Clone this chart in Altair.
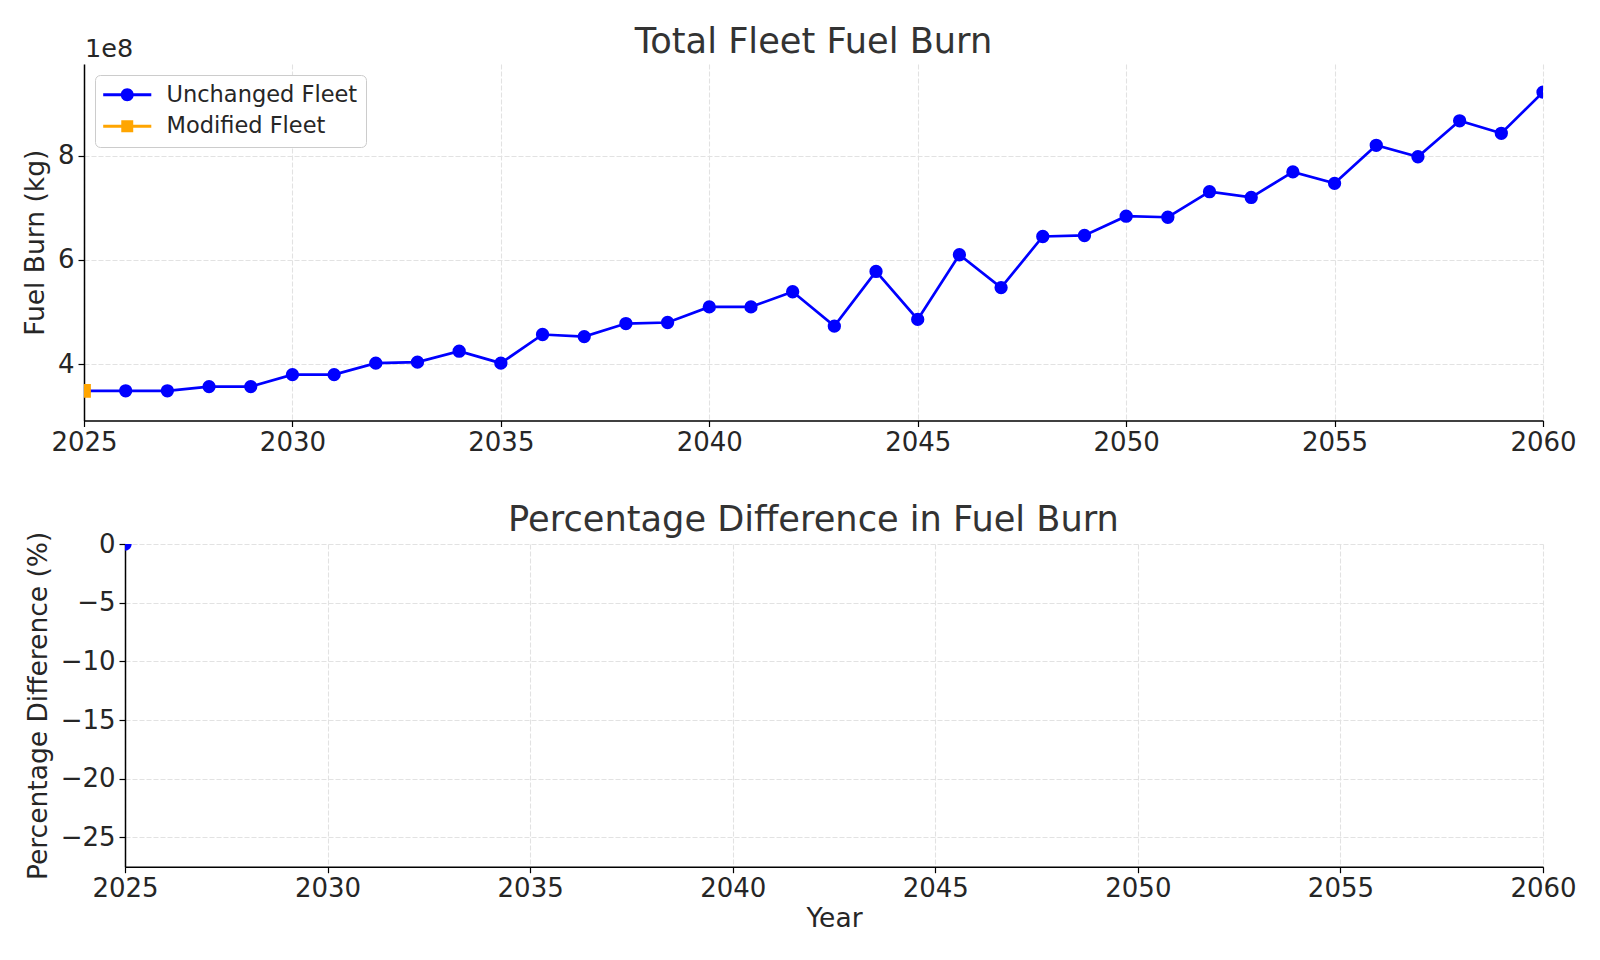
import altair as alt
import pandas as pd

# ---------------- data ----------------
years = list(range(2025, 2061))
unchanged_fuel_1e8 = [3.49, 3.49, 3.49, 3.57, 3.57, 3.80, 3.80, 4.02, 4.04, 4.25,
                      4.02, 4.57, 4.53, 4.78, 4.80, 5.10, 5.10, 5.39, 4.73, 5.78,
                      4.86, 6.10, 5.47, 6.45, 6.47, 6.84, 6.82, 7.31, 7.20, 7.69,
                      7.47, 8.20, 7.98, 8.67, 8.43, 9.22]
modified_years = [2025]
modified_fuel_1e8 = [3.49]
pct_years = [2025]
pct_diff = [0.0]

series_names = ["Unchanged Fleet", "Modified Fleet"]
series_colors = ["#0000ff", "#ffa500"]
x_ticks = [2025, 2030, 2035, 2040, 2045, 2050, 2055, 2060]
top_y_ticks = [4, 6, 8]
bottom_y_ticks = [0, -5, -10, -15, -20, -25]

FONT = "DejaVu Sans"
TXT = "#262626"
TICK_FS = 26
TITLE_FS = 26.5
HEAD_FS = 35.2
PLOT_W = 1459
BOTTOM_INSET = 41   # bottom panel starts further right (wider tick labels)
GRID = dict(grid=True, gridColor="#e2e2e2", gridDash=[5, 2], gridWidth=1.1)

unch = pd.DataFrame({"year": years, "fuel": unchanged_fuel_1e8, "series": series_names[0]})
mod = pd.DataFrame({"year": modified_years, "fuel": modified_fuel_1e8, "series": series_names[1]})
both = pd.concat([unch, mod], ignore_index=True)
pct = pd.DataFrame({"year": pct_years, "pct": pct_diff})


def x_enc(title=None, rng=None):
    kw = dict(values=x_ticks, format="d", labelFlush=False, labelOverlap=False,
              domainColor="#000000", domainWidth=1.5, tickColor="#000000",
              tickSize=6, tickWidth=1.2, labelFontSize=TICK_FS, labelFont=FONT,
              labelColor=TXT, labelPadding=3, **GRID)
    if title:
        kw.update(title=title, titleFontSize=TITLE_FS, titleFont=FONT, titleColor=TXT,
                  titleFontWeight="normal", titlePadding=3.6)
    else:
        kw.update(title=None)
    sc = dict(domain=[2025, 2060], nice=False, zero=False)
    if rng:
        sc["range"] = rng
    return alt.X("year:Q", scale=alt.Scale(**sc), axis=alt.Axis(**kw))


def y_enc(field, domain, ticks, title, offset=0):
    kw = dict(values=ticks, labelOverlap=False, labelFlush=False,
              domainColor="#000000", domainWidth=1.5, tickColor="#000000",
              tickSize=6, tickWidth=1.2, labelFontSize=TICK_FS, labelFont=FONT,
              labelColor=TXT, labelPadding=4, title=title, titleFontSize=TITLE_FS,
              titleFont=FONT, titleColor=TXT, titleFontWeight="normal", titlePadding=8,
              offset=offset, **GRID)
    return alt.Y(f"{field}:Q", scale=alt.Scale(domain=domain, nice=False, zero=False),
                 axis=alt.Axis(**kw))


circle_path = "M-3.7,-0.22H3.7V0.22H-3.7Z M1,0A1,1 0 1,1 -1,0A1,1 0 1,1 1,0Z"
square_path = "M-3.7,-0.22H3.7V0.22H-3.7Z M-0.92,-0.92H0.92V0.92H-0.92Z"
right_half_circle = "M0,-1A1,1 0 0,1 0,1Z"

leg = alt.Legend(title=None, orient="top-left", offset=11, padding=8.5,
                 fillColor="white", strokeColor="#cccccc", cornerRadius=5,
                 labelFontSize=22.5, labelFont=FONT, labelColor=TXT, labelLimit=400,
                 symbolSize=169, symbolStrokeWidth=0, symbolOffset=12.5,
                 labelOffset=28, rowPadding=8.5, symbolOpacity=1)

xt = x_enc()
yt = y_enc("fuel", [2.92, 9.76], top_y_ticks, "Fuel Burn (kg)")

line_top = alt.Chart(unch).mark_line(color="#0000ff", strokeWidth=2.7, clip=True).encode(x=xt, y=yt)
pts_top = alt.Chart(unch).mark_point(filled=True, shape="circle", size=177, color="#0000ff",
                                     opacity=1, clip=True).encode(x=xt, y=yt)
mod_top = alt.Chart(mod).mark_point(filled=True, shape="square", size=190, color="#ffa500",
                                    opacity=1, clip=True).encode(x=xt, y=yt)
legend_layer = alt.Chart(both).mark_point(filled=True, opacity=1).encode(
    color=alt.Color("series:N", sort=series_names,
                    scale=alt.Scale(domain=series_names, range=series_colors), legend=leg),
    shape=alt.Shape("series:N", sort=series_names,
                    scale=alt.Scale(domain=series_names, range=[circle_path, square_path]),
                    legend=leg),
).transform_filter("false")
exp_text = alt.Chart(pd.DataFrame({"t": ["1e8"]})).mark_text(
    align="left", baseline="alphabetic", fontSize=25.5, font=FONT, color=TXT
).encode(x=alt.value(1), y=alt.value(-7), text="t:N")

top = alt.layer(line_top, pts_top, mod_top, legend_layer, exp_text).properties(
    width=PLOT_W, height=356.5,
    title=alt.TitleParams("Total Fleet Fuel Burn", fontSize=HEAD_FS, font=FONT, color="#333333",
                          fontWeight="normal", anchor="middle", offset=-23),
)

xb = x_enc("Year", rng=[BOTTOM_INSET, PLOT_W])
yb = y_enc("pct", [-27.5, 0], bottom_y_ticks, "Percentage Difference (%)", offset=-BOTTOM_INSET)
line_b = alt.Chart(pct).mark_line(color="#0000ff", strokeWidth=2.7, clip=True).encode(x=xb, y=yb)
pts_b = alt.Chart(pct).mark_point(filled=True, shape=right_half_circle, size=177, color="#0000ff",
                                  opacity=1, clip=True).encode(x=xb, y=yb)
bottom = alt.layer(line_b, pts_b).properties(
    width=PLOT_W, height=322.7,
    title=alt.TitleParams("Percentage Difference in Fuel Burn", fontSize=HEAD_FS, font=FONT,
                          color="#333333", fontWeight="normal", anchor="middle", offset=-7),
)

chart = alt.concat(top, bottom, columns=1, spacing=46).properties(
    padding={"left": 13, "top": 16, "right": 0, "bottom": 0}
).configure_view(stroke="transparent")

chart.save("out.html", embed_options={"renderer": "svg", "actions": False})
